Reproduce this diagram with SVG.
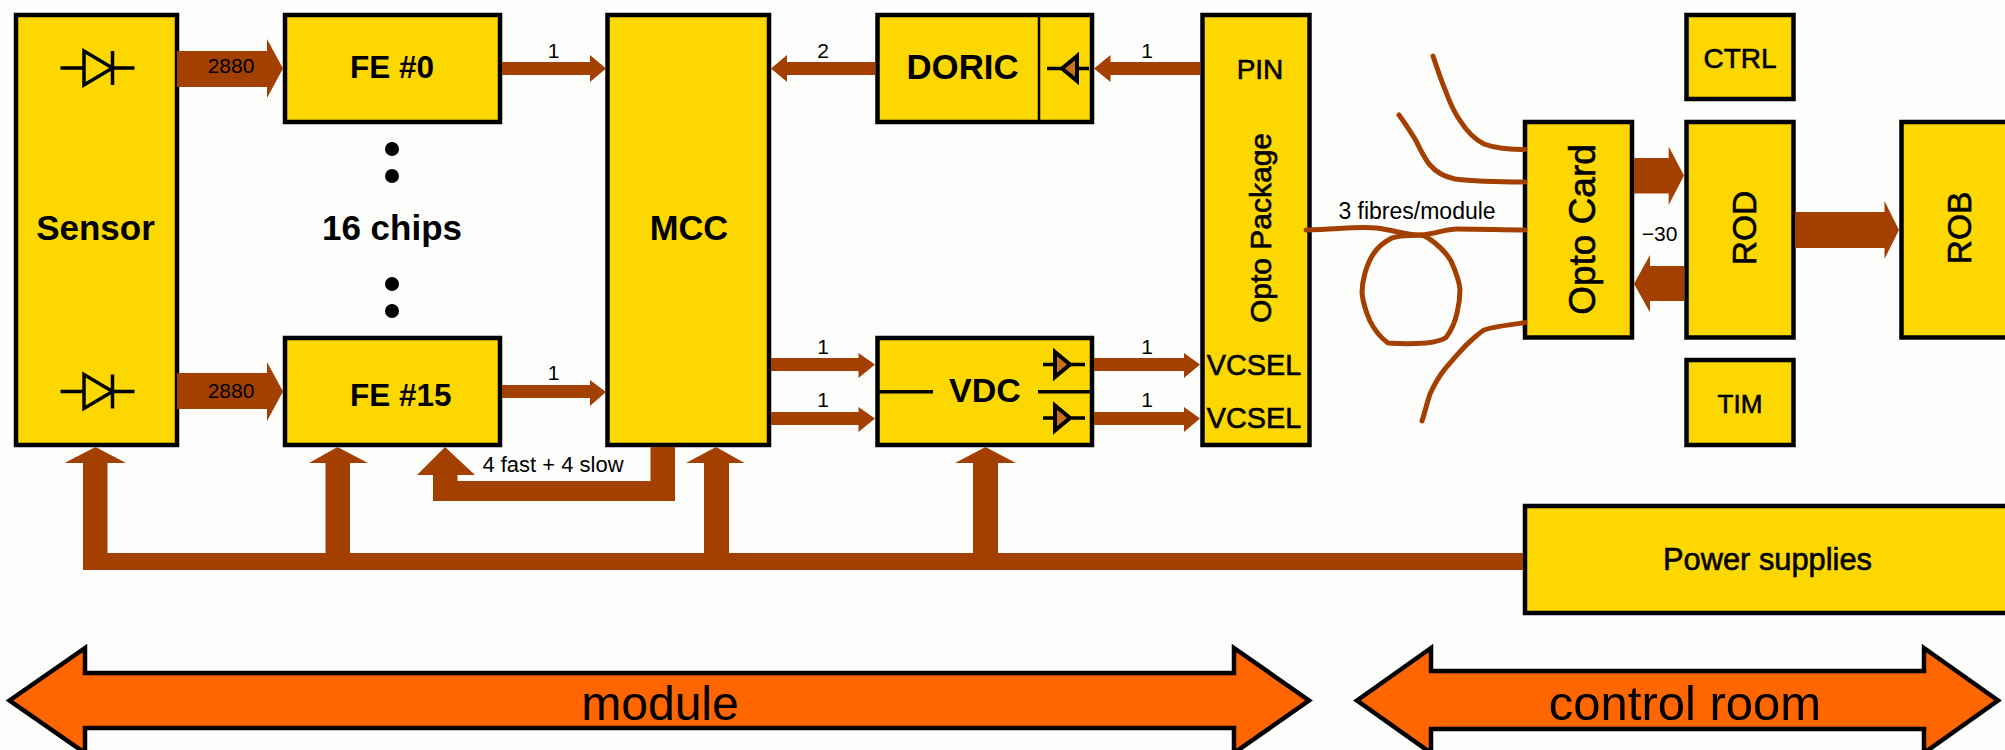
<svg xmlns="http://www.w3.org/2000/svg" width="2005" height="750" viewBox="0 0 2005 750">
<style>
.box{fill:#fdd700;stroke:#000;stroke-width:4.5}
.ln{stroke:#000;stroke-width:3.5;fill:none}
.arr{fill:#a34000;stroke:none}
.fib{fill:none;stroke:#a34000;stroke-width:5;stroke-linejoin:round;stroke-linecap:round}
.band{fill:#ff6600;stroke:#000;stroke-width:4.5}
text{font-family:"Liberation Sans",Arial,sans-serif;fill:#000;text-anchor:middle}
.b{font-weight:bold}
.m{stroke:#000;stroke-width:.6}
.s{font-size:21px}
.dia{fill:none;stroke:#000;stroke-width:3.5}
.dib{fill:#c8701a;stroke:#000;stroke-width:4}
</style>
<defs>
<g id="dsensor"><path class="dia" d="M60.500 0H84M112.500 0H134.500M84 -17V17L112.500 0ZM112.500 -17V17"/></g>
<g id="dout"><path class="dia" d="M0 0H12M27 0H42"/><path class="dib" d="M12 -12.500V12.500L27 0Z"/></g>
</defs>
<rect width="2005" height="750" fill="#fdfefc"/>
<g id="nodes-under">
<g id="sensor"><rect class="box" x="16" y="15" width="161" height="430"/><use href="#dsensor" y="68"/><use href="#dsensor" y="391.500"/><text class="b" x="95.500" y="240" font-size="35">Sensor</text></g>
<g id="fe0"><rect class="box" x="285" y="15" width="215" height="107"/><text class="b" x="392" y="78" font-size="31.500">FE #0</text></g>
<g id="fe15"><rect class="box" x="285" y="338" width="215" height="107"/><text class="b" x="350" y="405.500" font-size="31.500" style="text-anchor:start">FE #15</text></g>
<g id="chips"><circle cx="392" cy="149" r="7"/><circle cx="392" cy="176" r="7"/><circle cx="392" cy="284" r="7"/><circle cx="392" cy="311" r="7"/><text class="b" x="392" y="240" font-size="35">16 chips</text></g>
<g id="mcc"><rect class="box" x="607.500" y="15" width="161.500" height="430"/><text class="b" x="689" y="240" font-size="34.500">MCC</text></g>
<g id="doric"><rect class="box" x="877.500" y="15" width="214.500" height="107"/><path class="ln" d="M1039 15V122" style="stroke-width:2.500"/><use href="#dout" transform="translate(1089,68.500) scale(-1,1)"/><text class="b" x="962.500" y="78.500" font-size="34.800">DORIC</text></g>
<g id="vdc"><rect class="box" x="877.500" y="338" width="214.500" height="107"/><path class="ln" d="M877 391.700H933M1038 391.700H1092"/><use href="#dout" transform="translate(1043,364.500)"/><use href="#dout" transform="translate(1043,418)"/><text class="b" x="985" y="401.500" font-size="34">VDC</text></g>
<g id="opto-package"><rect class="box" x="1202.500" y="15" width="107" height="430"/><text class="m" x="1260" y="79" font-size="28">PIN</text><text class="m" x="1254" y="375" font-size="28.800">VCSEL</text><text class="m" x="1254" y="428" font-size="28.800">VCSEL</text><text class="m" transform="translate(1271,228) rotate(-90)" font-size="30">Opto Package</text></g>
<g id="opto-card"><rect class="box" x="1525" y="122" width="107" height="215.500"/><text class="m" transform="translate(1594.500,229.500) rotate(-90)" font-size="37">Opto Card</text></g>
<g id="ctrl"><rect class="box" x="1686.500" y="15" width="107" height="84"/><text class="m" x="1740" y="68" font-size="28">CTRL</text></g>
<g id="rod"><rect class="box" x="1686.500" y="122" width="107" height="215.500"/><text class="m" transform="translate(1755.500,228) rotate(-90)" font-size="33.500">ROD</text></g>
<g id="tim"><rect class="box" x="1686.500" y="360" width="107" height="85"/><text class="m" x="1740" y="413" font-size="26">TIM</text></g>
<g id="rob"><rect class="box" x="1901.500" y="122" width="120" height="215.500"/><text class="m" transform="translate(1971,228) rotate(-90)" font-size="33.500">ROB</text></g>
<g id="power"><rect class="box" x="1525" y="506" width="500" height="107"/><text class="m" x="1767.500" y="570" font-size="30.800">Power supplies</text></g>
</g>
<g id="connectors">
<path class="arr" d="M177 51H267V39L283 68.500L267 98V87H177Z"/>
<path class="arr" d="M177 373H267V362L283 391.500L267 421V409H177Z"/>
<path class="arr" d="M502 62H590V55L606 68.500L590 82V75H502Z"/>
<path class="arr" d="M502 385H590V380L606 392L590 406V398H502Z"/>
<path class="arr" d="M875 62H787V55L771 68.500L787 82V75H875Z"/>
<path class="arr" d="M1200 62H1110.500V55L1094 68.500L1110.500 82V75H1200Z"/>
<path class="arr" d="M771 358H858.500V353L875 364.500L858.500 378V371H771Z"/>
<path class="arr" d="M771 412H858.500V407L875 418.500L858.500 432V425H771Z"/>
<path class="arr" d="M1094 358H1184V353L1200 364.500L1184 378V371H1094Z"/>
<path class="arr" d="M1094 412H1184V407L1200 418.500L1184 432V425H1094Z"/>
<path class="arr" d="M1634 158H1668.700V146.500L1684 175.500L1668.700 205V193.500H1634Z"/>
<path class="arr" d="M1684 266H1650V255L1634 283.700L1650 312.500V301H1684Z"/>
<path class="arr" d="M1795 212H1884.500V201L1899 230L1884.500 259V248H1795Z"/>
<path class="arr" d="M83 570V463H64.500L95.500 447L126 463H107.500V553H325.500V463H309L337.500 447L368 463H350V553H704V463H686L716 447L744.500 463H729V553H973V463H955L985.500 447L1016 463H998V553H1523V570Z"/>
<path class="arr" d="M650.500 447H675V501H433V475H417L445 447L475 475H457.500V481H650.500Z"/>
<path class="fib" d="M1306 230C1340 229 1360 226 1376 228C1395 230 1408 236 1421 235C1435 234 1445 229 1457 229C1480 229 1505 230 1525 230"/>
<path class="fib" d="M1421 235C1410 236 1400 235 1392 238C1384 242 1378 247 1374 253C1369 260 1367 266 1365 273C1363 280 1362 286 1362 293C1363 303 1366 312 1370 321C1375 331 1381 338 1388 343C1400 344 1414 344 1426 343C1435 342 1441 341 1446 337.500C1451 331 1455 322 1457 313C1459 305 1460 297 1460 289C1459 279 1455 270 1451 261C1447 254 1441 248 1435 243C1430 239 1426 236 1421 235"/>
<path class="fib" d="M1433 56C1437 68 1441 80 1446 92C1450 103 1454 112 1460 120.500C1466 130 1474 139 1484 144C1497 149 1510 149 1525 149.500"/>
<path class="fib" d="M1399 115C1405 123 1410 131 1415 139C1420 148 1424 158 1430 165C1436 172 1445 177 1455 179C1478 182 1502 182 1525 182"/>
<path class="fib" d="M1525 322.600C1510 325 1496 326 1484 330C1469 340 1458 354 1446 367.600C1439 376 1434 385 1430 394C1427 403 1425 412 1422 421"/>
</g>
<g id="labels">
<text class="s" x="231" y="72.500">2880</text>
<text class="s" x="231" y="397.500">2880</text>
<text class="s" x="553.500" y="57.500">1</text>
<text class="s" x="553.500" y="380">1</text>
<text class="s" x="823" y="57.500">2</text>
<text class="s" x="1147" y="57.500">1</text>
<text class="s" x="823" y="353.500">1</text>
<text class="s" x="823" y="406.500">1</text>
<text class="s" x="1147" y="353.500">1</text>
<text class="s" x="1147" y="406.500">1</text>
<text x="553" y="471.500" font-size="22">4 fast + 4 slow</text>
<text x="1417" y="219" font-size="23">3 fibres/module</text>
<text class="s" x="1659.500" y="241">−30</text>
</g>
<g id="module"><path class="band" d="M9.500 700.500L85 648V673H1234V648L1309 700.500L1234 753V728H85V753Z"/><text x="660" y="720" font-size="48">module</text></g>
<g id="control-room"><path class="band" d="M1357 700.500L1431 648V671H1924V648L1998 700.500L1924 753V729H1431V753Z"/><text x="1685" y="720" font-size="49">control room</text></g>
</svg>
